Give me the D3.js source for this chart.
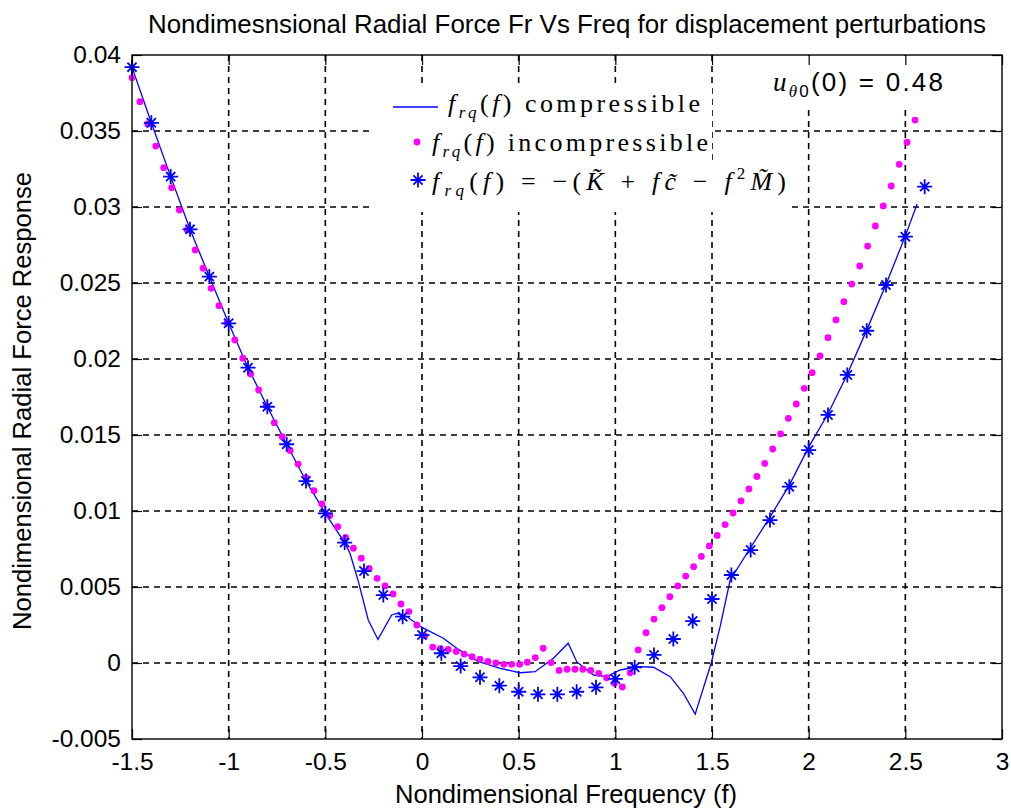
<!DOCTYPE html>
<html>
<head>
<meta charset="utf-8">
<script src="https://d3js.org/d3.v7.min.js"></script>
<style>
    body { margin: 0; background: #fff; }
    svg { display: block; }
    .tick text { font-family: "Liberation Sans", Arial, sans-serif; font-size: 24.5px; fill: #000; }
    .tick line { stroke: #000; stroke-width: 1.2; }
</style>
</head>
<body>
<svg id="chart" width="1011" height="812"></svg>
<script>

// axis ranges, ticks and tick labels
var xDomain = [-1.5, 3],
    yDomain = [-0.005, 0.04];
var xTicks = [-1.5, -1, -0.5, 0, 0.5, 1, 1.5, 2, 2.5, 3];
var xTickLabels = ["-1.5", "-1", "-0.5", "0", "0.5", "1", "1.5", "2", "2.5", "3"];
var yTicks = [-0.005, 0, 0.005, 0.01, 0.015, 0.02, 0.025, 0.03, 0.035, 0.04];
var yTickLabels = ["-0.005", "0", "0.005", "0.01", "0.015", "0.02", "0.025", "0.03", "0.035", "0.04"];

// f_rq(f) compressible (solid blue line)
var compF = [-1.5, -1.4, -1.3, -1.2, -1.1, -1.0, -0.9, -0.8, -0.7, -0.6, -0.5, -0.4, -0.373, -0.33, -0.278, -0.228,
    -0.157, -0.129, -0.079, 0.0, 0.11, 0.18, 0.29, 0.404, 0.507, 0.585, 0.68, 0.756, 0.801, 0.887, 0.956,
    1.025, 1.118, 1.197, 1.284, 1.352, 1.413, 1.496, 1.542, 1.594, 1.7, 1.8, 1.9, 2.0, 2.1, 2.2, 2.3, 2.4, 2.5, 2.561];
var compV = [0.0392, 0.03554, 0.0320, 0.02853, 0.02542, 0.02235, 0.01943, 0.01686, 0.01439, 0.01197, 0.00985, 0.00792, 0.00724, 0.0054, 0.00283, 0.00155,
    0.00316, 0.00326, 0.00306, 0.00234, 0.00163, 0.00097, 0.0001, -0.00035, -0.00064, -0.00057, 0.00031, 0.0013, 0.00007, -0.00079, -0.00089,
    -0.00046, -0.00024, -0.00028, -0.0009, -0.00199, -0.00336, 0.0, 0.00239, 0.00546, 0.0076, 0.0096, 0.0117, 0.0142, 0.0164, 0.0190, 0.0219, 0.0249, 0.0281, 0.0302];

// f_rq(f) incompressible (magenta dots)
var incF = [-1.5, -1.459, -1.418, -1.377, -1.336, -1.295, -1.255, -1.214, -1.173, -1.132,
    -1.091, -1.05, -1.009, -0.968, -0.927, -0.886, -0.845, -0.805, -0.764, -0.723,
    -0.682, -0.641, -0.6, -0.559, -0.518, -0.477, -0.436, -0.395, -0.355, -0.314,
    -0.273, -0.232, -0.191, -0.15, -0.109, -0.068, -0.027, 0.014, 0.055, 0.095,
    0.136, 0.177, 0.218, 0.259, 0.3, 0.341, 0.382, 0.423, 0.464, 0.505,
    0.545, 0.586, 0.627, 0.668, 0.709, 0.75, 0.791, 0.832, 0.873, 0.914,
    0.955, 0.995, 1.036, 1.077, 1.118, 1.159, 1.2, 1.241, 1.282, 1.323,
    1.364, 1.405, 1.445, 1.486, 1.527, 1.568, 1.609, 1.65, 1.691, 1.732,
    1.773, 1.814, 1.855, 1.895, 1.936, 1.977, 2.018, 2.059, 2.1, 2.141,
    2.182, 2.223, 2.264, 2.305, 2.345, 2.386, 2.427, 2.468, 2.509, 2.55];
var incV = [0.03851, 0.03693, 0.03546, 0.03401, 0.03259, 0.03127, 0.0298, 0.02849, 0.02717, 0.02597,
    0.02465, 0.02351, 0.02237, 0.02125, 0.02005, 0.01901, 0.01796, 0.01691, 0.01581, 0.01489,
    0.01398, 0.01309, 0.0122, 0.01134, 0.01046, 0.0097, 0.00897, 0.00826, 0.00755, 0.00689,
    0.00623, 0.00557, 0.00507, 0.00454, 0.00388, 0.00338, 0.0025, 0.00178, 0.00105, 0.00095,
    0.00089, 0.00076, 0.00059, 0.00041, 0.00026, 0.0001, 0.0, -0.00009, -0.00009, -0.00009,
    0.00005, 0.00036, 0.00097, 0.00003, -0.00049, -0.00041, -0.00041, -0.00041, -0.00049, -0.00068,
    -0.00097, -0.00134, -0.00158, -0.00064, 0.00086, 0.00199, 0.00289, 0.00364, 0.00436, 0.00507,
    0.00572, 0.00634, 0.00701, 0.0077, 0.00839, 0.00911, 0.00987, 0.01066, 0.01145, 0.01227,
    0.01313, 0.01408, 0.01507, 0.0161, 0.01704, 0.01807, 0.0191, 0.0202, 0.0214, 0.02257,
    0.02377, 0.02493, 0.02612, 0.02743, 0.02875, 0.03007, 0.03138, 0.03281, 0.03426, 0.03572];

// f_rq(f) = -(K + fc - f^2 M) (blue stars)
var starF = [-1.5, -1.4, -1.3, -1.2, -1.1, -1.0, -0.9, -0.8, -0.7, -0.6, -0.5, -0.4, -0.3, -0.2, -0.1,
    0.0, 0.1, 0.2, 0.3, 0.4, 0.5, 0.6, 0.7, 0.8, 0.9, 1.0, 1.1, 1.2, 1.3, 1.4, 1.5,
    1.6, 1.7, 1.8, 1.9, 2.0, 2.1, 2.2, 2.3, 2.4, 2.5, 2.6];
var starV = [0.0392, 0.03554, 0.0320, 0.02853, 0.02542, 0.02235, 0.01943, 0.01686, 0.01439, 0.01197, 0.00985, 0.00792, 0.00605, 0.00447, 0.00305,
    0.00184, 0.00064, -0.0002, -0.00094, -0.00149, -0.00189, -0.00206, -0.00206, -0.00189, -0.0016, -0.00105, -0.00028, 0.00053, 0.00158, 0.00276, 0.00421,
    0.00579, 0.00743, 0.0094, 0.0116, 0.01401, 0.01632, 0.01895, 0.02186, 0.02487, 0.02805, 0.03134];

var sans = '"Liberation Sans", Arial, sans-serif',
    serif = '"Liberation Serif", "Times New Roman", serif';

var svg = d3.select("#chart"),
    margin = { top: 55, right: 9, bottom: 73, left: 132 },
    width = +svg.attr("width") - margin.left - margin.right,
    height = +svg.attr("height") - margin.top - margin.bottom;

svg.append("rect").attr("width", 1011).attr("height", 812).attr("fill", "#fff");

var x = d3.scaleLinear().domain(xDomain).range([margin.left, margin.left + width]);
var y = d3.scaleLinear().domain(yDomain).range([margin.top + height, margin.top]);

// dashed grid (inner ticks only, the edges sit under the box)
var grid = svg.append("g")
    .attr("stroke", "#000")
    .attr("stroke-width", 1.6)
    .attr("stroke-dasharray", "6,5");

grid.selectAll(".vgrid")
    .data(xTicks.slice(1, -1))
    .enter().append("line")
    .attr("x1", function (d) { return x(d); })
    .attr("x2", function (d) { return x(d); })
    .attr("y1", margin.top)
    .attr("y2", margin.top + height);

grid.selectAll(".hgrid")
    .data(yTicks.slice(1, -1))
    .enter().append("line")
    .attr("y1", function (d) { return y(d); })
    .attr("y2", function (d) { return y(d); })
    .attr("x1", margin.left)
    .attr("x2", margin.left + width);

// white box behind the u(0) note
svg.append("rect")
    .attr("x", 742).attr("y", margin.top + 1)
    .attr("width", 250).attr("height", 52)
    .attr("fill", "#fff");

// series
var line = d3.line()
    .x(function (d) { return x(d[0]); })
    .y(function (d) { return y(d[1]); });

svg.append("path")
    .datum(d3.zip(compF, compV))
    .attr("d", line)
    .attr("fill", "none")
    .attr("stroke", "#0000ff")
    .attr("stroke-width", 1.3);

svg.append("g")
    .selectAll("circle")
    .data(d3.zip(incF, incV))
    .enter().append("circle")
    .attr("cx", function (d) { return x(d[0]); })
    .attr("cy", function (d) { return y(d[1]); })
    .attr("r", 3.4)
    .attr("fill", "#ff00ff");

var starPath = "M-7.5,0H7.5M0,-7.5V7.5M-4.6,-4.6L4.6,4.6M-4.6,4.6L4.6,-4.6";

svg.append("g")
    .selectAll("path")
    .data(d3.zip(starF, starV))
    .enter().append("path")
    .attr("transform", function (d) { return "translate(" + x(d[0]) + "," + y(d[1]) + ")"; })
    .attr("d", starPath)
    .attr("stroke", "#0000ff")
    .attr("stroke-width", 1.8)
    .attr("fill", "none");

// axes with inward ticks on all four sides
function fmt(labels, ticks) {
    return function (d) { return labels[ticks.indexOf(d)]; };
}

var axB = svg.append("g")
    .attr("transform", "translate(0," + (margin.top + height) + ")")
    .call(d3.axisBottom(x).tickValues(xTicks).tickFormat(fmt(xTickLabels, xTicks))
        .tickSizeInner(-10).tickSizeOuter(0).tickPadding(14));
var axL = svg.append("g")
    .attr("transform", "translate(" + margin.left + ",0)")
    .call(d3.axisLeft(y).tickValues(yTicks).tickFormat(fmt(yTickLabels, yTicks))
        .tickSizeInner(-10).tickSizeOuter(0).tickPadding(11));
var axT = svg.append("g")
    .attr("transform", "translate(0," + margin.top + ")")
    .call(d3.axisTop(x).tickValues(xTicks).tickFormat("").tickSizeInner(-10).tickSizeOuter(0));
var axR = svg.append("g")
    .attr("transform", "translate(" + (margin.left + width) + ",0)")
    .call(d3.axisRight(y).tickValues(yTicks).tickFormat("").tickSizeInner(-10).tickSizeOuter(0));

[axB, axL, axT, axR].forEach(function (a) {
    a.select(".domain").remove();
    a.attr("font-family", null).attr("font-size", null);
});

svg.append("rect")
    .attr("x", margin.left).attr("y", margin.top)
    .attr("width", width).attr("height", height)
    .attr("fill", "none")
    .attr("stroke", "#000")
    .attr("stroke-width", 1.4);

// titles
svg.append("text")
    .attr("x", margin.left + width / 2).attr("y", 33)
    .attr("text-anchor", "middle")
    .attr("font-family", sans).attr("font-size", 25)
    .attr("textLength", 838).attr("lengthAdjust", "spacingAndGlyphs")
    .text("Nondimesnsional Radial Force Fr Vs Freq for displacement perturbations");

svg.append("text")
    .attr("x", 566).attr("y", 803)
    .attr("text-anchor", "middle")
    .attr("font-family", sans).attr("font-size", 25.5)
    .attr("textLength", 342).attr("lengthAdjust", "spacingAndGlyphs")
    .text("Nondimensional Frequency (f)");

svg.append("text")
    .attr("transform", "translate(31,401) rotate(-90)")
    .attr("text-anchor", "middle")
    .attr("font-family", sans).attr("font-size", 25.5)
    .attr("textLength", 458).attr("lengthAdjust", "spacingAndGlyphs")
    .text("Nondimensional Radial Force Response");

// legend (white box, no border)
var lg = svg.append("g");
lg.append("rect").attr("x", 372).attr("y", 83).attr("width", 340).attr("height", 129).attr("fill", "#fff");
lg.append("rect").attr("x", 712).attr("y", 160).attr("width", 78).attr("height", 52).attr("fill", "#fff");

lg.append("line")
    .attr("x1", 393).attr("x2", 438).attr("y1", 107).attr("y2", 107)
    .attr("stroke", "#0000ff").attr("stroke-width", 1.3);
lg.append("circle").attr("cx", 417).attr("cy", 142).attr("r", 3.4).attr("fill", "#ff00ff");
lg.append("path").attr("transform", "translate(418,180)").attr("d", starPath)
    .attr("stroke", "#0000ff").attr("stroke-width", 1.8).attr("fill", "none");

// parts: [text, italic, dy, size, family]
function addLabel(g, px, py, parts, len, family) {
    var t = g.append("text").attr("x", px).attr("y", py)
        .attr("font-family", family || serif).attr("font-size", 26).attr("fill", "#000");
    parts.forEach(function (p) {
        var s = t.append("tspan").text(p[0]).attr("font-size", p[3]);
        if (p[1]) s.attr("font-style", "italic");
        if (p[2]) s.attr("dy", p[2]);
        if (p[4]) s.attr("font-family", p[4]);
    });
    if (len) t.attr("textLength", len).attr("lengthAdjust", "spacing");
    return t;
}

var frq = [["f", 1, 0, 26], ["rq", 1, 6, 17], ["(", 0, -6, 26], ["f", 1, 0, 26], [")", 0, 0, 26]];

addLabel(lg, 448, 112, frq.concat([[" compressible", 0, 0, 26]]), 252);
addLabel(lg, 432, 151, frq.concat([[" incompressible", 0, 0, 26]]), 276);
addLabel(lg, 432, 190, frq.concat([
    [" = \u2212(", 0, 0, 26], ["K\u0303", 1, 0, 26], [" + ", 0, 0, 26],
    ["f", 1, 0, 26], ["c\u0303", 1, 0, 26], [" \u2212 ", 0, 0, 26],
    ["f", 1, 0, 26], ["2", 0, -11, 17], ["M\u0303", 1, 11, 26], [")", 0, 0, 26]
]), 354);

// note u_theta0(0) = 0.48
addLabel(svg, 773, 91, [
    ["u", 1, 0, 27], ["\u03b8", 1, 6, 17], ["0", 0, 0, 17, sans], ["(0) = 0.48", 0, -6, 26, sans]
], 170);

</script>
</body>
</html>
